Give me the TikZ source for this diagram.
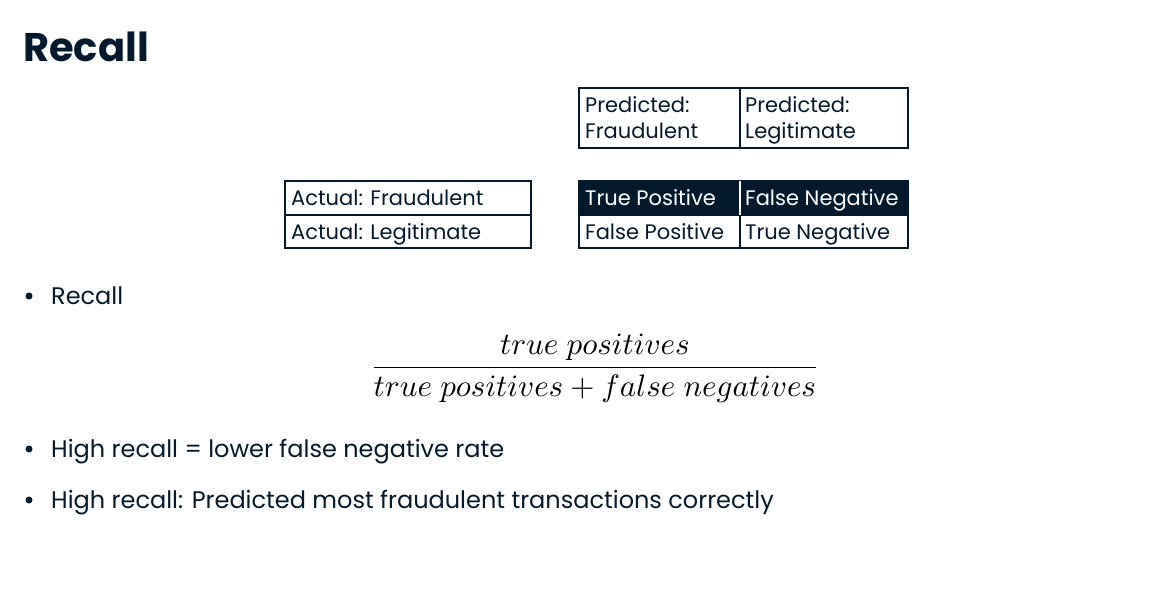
\documentclass[tikz,border=0pt]{standalone}
\usepackage{fontspec}
\setmainfont{Poppins}
\definecolor{navy}{HTML}{05192D}
\begin{document}
\begin{tikzpicture}[x=1pt,y=-1pt,
  cell/.style={draw=navy,line width=1.3pt},
  tab/.style={inner sep=0pt,anchor=base west,text=navy,font=\fontsize{21}{25.5}\selectfont},
  bul/.style={inner sep=0pt,anchor=base west,text=navy,font=\fontsize{24}{28}\selectfont},
  dot/.style={circle,fill=navy,inner sep=0pt,minimum size=7pt}]
\useasboundingbox (0,0) rectangle (1175,596);
% title
\node[inner sep=0pt,anchor=base west,text=navy,font=\fontsize{40}{44}\selectfont\bfseries] (title) at (23,62) {Recall};
% predicted header
\draw[cell] (579,88) rectangle (908,148);
\draw[cell] (740,88) -- (740,148);
\node[tab,align=left] (pf) at (585,138.5) {Predicted:\\Fraudulent};
\node[tab,align=left] (pl) at (745,138.5) {Predicted:\\Legitimate};
% actual labels
\draw[cell] (285,181) rectangle (531,248);
\draw[cell] (285,215) -- (531,215);
\node[tab] (af) at (291,206) {Actual: Fraudulent};
\node[tab] (al) at (291,240) {Actual: Legitimate};
% matrix
\fill[navy] (579,181) rectangle (908,215);
\draw[cell] (579,181) rectangle (908,248);
\draw[cell] (579,215) -- (908,215);
\draw[draw=white,line width=1.3pt] (740,181) -- (740,215);
\draw[cell] (740,215) -- (740,248);
\node[tab,text=white] (tp) at (585,206) {True Positive};
\node[tab,text=white] (fn) at (745,206) {False Negative};
\node[tab] (fp) at (585,240) {False Positive};
\node[tab] (tn) at (745,240) {True Negative};
% bullets
\node[dot] (d1) at (29,296) {};
\node[bul] (b1) at (51,304) {Recall};
\node[inner sep=0pt,anchor=center] (frac) at (595,368.5) {\resizebox{450pt}{!}{$\displaystyle\frac{true\ positives}{true\ positives + false\ negatives}$}};
\node[dot] (d2) at (29,449) {};
\node[bul] (b2) at (51,457) {High recall = lower false negative rate};
\node[dot] (d3) at (29,500) {};
\node[bul] (b3) at (51,508) {High recall: Predicted most fraudulent transactions correctly};
\end{tikzpicture}
\end{document}
